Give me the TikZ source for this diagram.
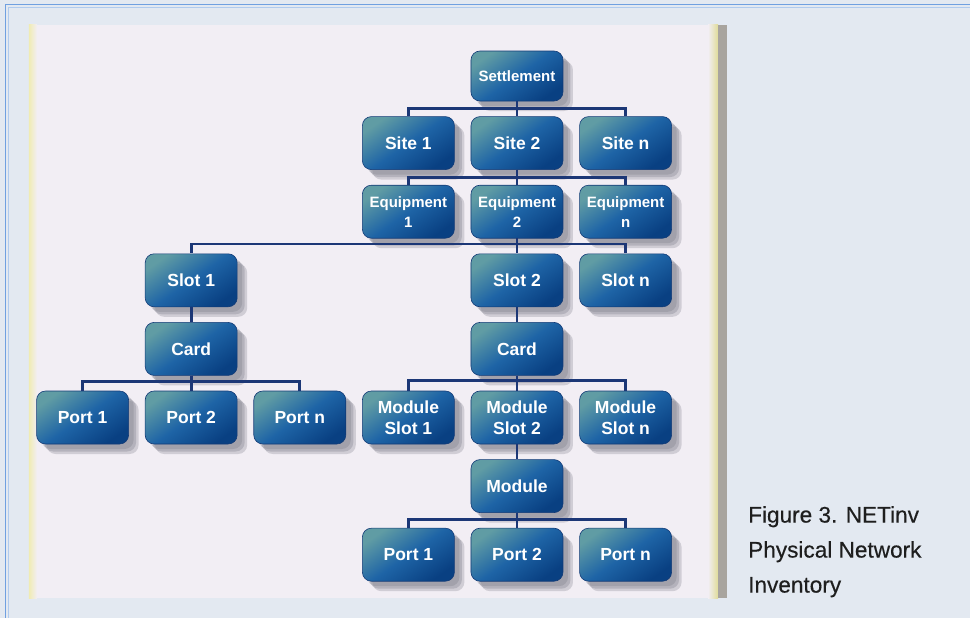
\documentclass[tikz,border=0pt]{standalone}
\usepackage{fontspec}
\setmainfont{Liberation Sans}
\newfontface\capfont{Liberation Sans}[FakeBold=0.35]
\usepackage{tikz}
\usetikzlibrary{matrix}
\usetikzlibrary{calc}
\usetikzlibrary{backgrounds}
\definecolor{pagebg}{RGB}{227,233,241}
\definecolor{panelbg}{RGB}{242,238,244}
\definecolor{frameblue}{RGB}{112,160,224}
\definecolor{edgeyellow}{RGB}{240,236,180}
\definecolor{edgegray}{RGB}{168,164,158}
\definecolor{boxtop}{RGB}{96,156,164}
\definecolor{boxmid}{RGB}{30,100,166}
\definecolor{boxbottom}{RGB}{9,64,130}
\definecolor{boxedge}{RGB}{18,58,118}
\definecolor{linknavy}{RGB}{28,55,118}
\definecolor{shadowgray}{RGB}{130,130,142}
\definecolor{captiontext}{RGB}{30,30,30}
\tikzset{
  box/.style={rounded corners=9pt, minimum width=92pt, minimum height=53pt, inner sep=2pt,
    top color=boxtop, bottom color=boxbottom, middle color=boxmid, shading angle=35,
    draw=boxedge, line width=0.6pt, text=white, align=center,
    font=\fontsize{17.5}{21}\selectfont\bfseries,
    preaction={fill=shadowgray, opacity=0.35, transform canvas={shift={(5pt,-5pt)}}},
    preaction={fill=shadowgray, opacity=0.35, transform canvas={shift={(7.5pt,-7.5pt)}}},
    preaction={fill=shadowgray, opacity=0.3, transform canvas={shift={(10pt,-10pt)}}}},
  smallbox/.style={box, font=\fontsize{15}{20}\selectfont\bfseries},
  link/.style={draw=linknavy, line width=2.8pt},
}
\begin{document}
\begin{tikzpicture}[x=1pt,y=-1pt]
          \matrix (m) [row sep=15pt, column sep=16pt]
          {
             & & & & \node[smallbox, minimum height=50pt] (set) {Settlement}; & \\
             & & & \node[box] (site1) {Site 1}; & \node[box] (site2) {Site 2}; & \node[box] (siten) {Site n}; \\
             & & & \node[smallbox] (eq1) {Equipment\\1}; & \node[smallbox] (eq2) {Equipment\\2}; & \node[smallbox] (eqn) {Equipment\\n}; \\
             & \node[box] (slot1) {Slot 1}; & & & \node[box] (slot2) {Slot 2}; & \node[box] (slotn) {Slot n}; \\
             & \node[box] (card1) {Card}; & & & \node[box] (card2) {Card}; & \\
             \node[box] (port1) {Port 1}; & \node[box] (port2) {Port 2}; & \node[box] (portn) {Port n}; & \node[box] (mslot1) {Module\\Slot 1}; & \node[box] (mslot2) {Module\\Slot 2}; & \node[box] (mslotn) {Module\\Slot n}; \\
             & & & & \node[box] (mod) {Module}; & \\
             & & & \node[box] (mport1) {Port 1}; & \node[box] (mport2) {Port 2}; & \node[box] (mportn) {Port n}; \\
          };
          %tree links
          \draw[link] (set.south) -- ++(0,7) -| (site1.north);
          \draw[link] (set.south) -- ++(0,7) -| (site2.north);
          \draw[link] (set.south) -- ++(0,7) -| (siten.north);
          \draw[link] (site2.south) -- ++(0,7.5) -| (eq1.north);
          \draw[link] (site2.south) -- ++(0,7.5) -| (eq2.north);
          \draw[link] (site2.south) -- ++(0,7.5) -| (eqn.north);
          \draw[link] (eq2.south) -- ++(0,5.5) -| (slot1.north);
          \draw[link] (eq2.south) -- ++(0,5.5) -| (slot2.north);
          \draw[link] (eq2.south) -- ++(0,5.5) -| (slotn.north);
          \draw[link] (slot1) -- (card1);
          \draw[link] (slot2) -- (card2);
          \draw[link] (card1.south) -- ++(0,5.5) -| (port1.north);
          \draw[link] (card1.south) -- ++(0,5.5) -| (port2.north);
          \draw[link] (card1.south) -- ++(0,5.5) -| (portn.north);
          \draw[link] (card2.south) -- ++(0,5) -| (mslot1.north);
          \draw[link] (card2.south) -- ++(0,5) -| (mslot2.north);
          \draw[link] (card2.south) -- ++(0,5) -| (mslotn.north);
          \draw[link] (mslot2) -- (mod);
          \draw[link] (mod.south) -- ++(0,7) -| (mport1.north);
          \draw[link] (mod.south) -- ++(0,7) -| (mport2.north);
          \draw[link] (mod.south) -- ++(0,7) -| (mportn.north);
          %page, frame and panel behind the tree
          \coordinate (o) at ($(set.center)+(-517,-76)$);
          \begin{scope}[on background layer, shift={(o)}]
             \path[use as bounding box, fill=pagebg] (0,0) rectangle (970,618);
             \draw[frameblue, line width=1pt] (970,5) -- (6,5) -- (6,618);
             \draw[frameblue!55, line width=0.8pt] (970,7.5) -- (8.5,7.5) -- (8.5,618);
             \fill[panelbg] (29,25) rectangle (717,598);
             \fill[left color=edgeyellow, right color=panelbg] (29,25) rectangle (37,598);
             \fill[left color=panelbg, right color=edgeyellow!85!olive] (708,25) rectangle (718,598);
             \fill[edgegray] (718,25) rectangle (727,598);
             \node[anchor=north west, inner sep=0pt, align=left, text=captiontext,
                   font=\fontsize{22.6}{35}\capfont] (caption) at (748,506)
                   {Figure 3. NETinv\\Physical Network\\Inventory};
          \end{scope}
      \end{tikzpicture}
\end{document}
